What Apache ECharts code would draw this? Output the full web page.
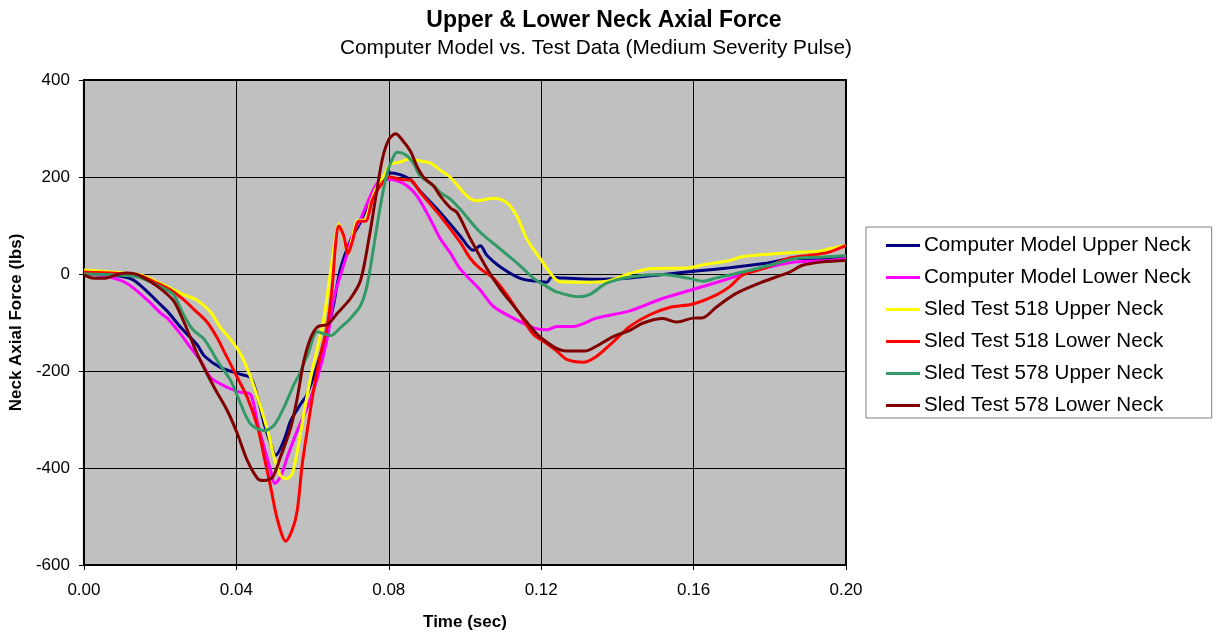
<!DOCTYPE html>
<html>
<head>
<meta charset="utf-8">
<script src="https://cdn.jsdelivr.net/npm/echarts@6/dist/echarts.min.js"></script>
<style>
html,body{margin:0;padding:0;background:#fff;}
#chart{width:1217px;height:636px;}
</style>
</head>
<body>
<div id="chart"></div>
<script>
const seriesNames = ['Computer Model Upper Neck','Computer Model Lower Neck','Sled Test 518 Upper Neck','Sled Test 518 Lower Neck','Sled Test 578 Upper Neck','Sled Test 578 Lower Neck'];
const seriesColors = ['#000080','#FF00FF','#FFFF00','#FF0000','#339966','#800000'];
const xTicks = [0, 0.04, 0.08, 0.12, 0.16, 0.20];
const yTicks = [-600, -400, -200, 0, 200, 400];

const cmUpperT = [0,0.005,0.010,0.0131,0.0175,0.0202,0.0219,0.0255,0.0297,0.0316,0.0359,0.0412,0.0438,0.0456,0.0473,0.049,0.0503,0.0525,0.0543,0.0569,0.0586,0.0613,0.0639,0.0656,0.0673,0.070,0.0726,0.0752,0.0778,0.080,0.083,0.0856,0.0883,0.0935,0.0987,0.1022,0.104,0.1058,0.1092,0.1145,0.1197,0.1215,0.1228,0.125,0.1345,0.1433,0.152,0.1607,0.1695,0.178,0.187,0.1956,0.200];
const cmUpperV = [0,-2,-5,-13,-43,-64,-77,-111,-146,-169,-193,-207,-214,-255,-309,-350,-374,-343,-302,-268,-248,-186,-118,-60,10,70,107,154,189,209,205,195,170,127,79,49,58,38,15,-9,-16,-17,-6,-8,-11,-8,-1,6,13,21,32,32,33];

const cmLowerT = [0,0.005,0.0079,0.0105,0.0132,0.0175,0.0202,0.0219,0.0255,0.028,0.0307,0.0333,0.0377,0.0412,0.0438,0.0456,0.0473,0.049,0.0501,0.0516,0.0534,0.056,0.0586,0.0613,0.0639,0.0656,0.0687,0.0708,0.0726,0.0752,0.0774,0.0801,0.0822,0.0848,0.0874,0.0909,0.0935,0.0962,0.0987,0.104,0.1075,0.1127,0.118,0.1215,0.1241,0.1284,0.1345,0.1433,0.152,0.1607,0.1695,0.178,0.187,0.1956,0.200];
const cmLowerV = [0,-3,-9,-16,-30,-60,-81,-91,-125,-152,-180,-214,-234,-244,-249,-309,-357,-405,-432,-418,-377,-323,-275,-214,-132,-50,32,86,113,161,191,195,192,182,161,113,73,43,11,-33,-67,-91,-111,-115,-108,-108,-91,-76,-50,-30,-9,11,25,28,32];

const st518UpperT = [0,0.0088,0.0149,0.021,0.0263,0.0297,0.0332,0.0359,0.0385,0.0412,0.0438,0.0464,0.0482,0.0499,0.0516,0.0532,0.0547,0.056,0.0577,0.0595,0.0613,0.063,0.0647,0.066,0.0669,0.0682,0.0693,0.0704,0.0717,0.0739,0.0752,0.077,0.0787,0.0804,0.0831,0.0852,0.0883,0.0909,0.0935,0.0962,0.1005,0.1031,0.1075,0.111,0.1136,0.1162,0.1197,0.1232,0.125,0.131,0.1372,0.1433,0.1485,0.1589,0.1625,0.1695,0.1729,0.1852,0.193,0.1956,0.200];
const st518UpperV = [8,3,-2,-23,-43,-54,-78,-111,-135,-166,-214,-275,-323,-377,-416,-422,-411,-365,-289,-214,-152,-91,4,73,103,73,42,73,109,113,147,182,202,226,231,237,233,229,214,199,161,151,156,147,120,73,32,-6,-16,-17,-15,1,11,13,19,28,36,44,47,52,59];

const st518LowerT = [0,0.0088,0.0149,0.0184,0.0228,0.0263,0.029,0.0324,0.035,0.0368,0.0403,0.0429,0.0456,0.0473,0.049,0.0508,0.053,0.0547,0.056,0.0573,0.0586,0.0604,0.0621,0.0639,0.0652,0.066,0.0669,0.0682,0.0693,0.0704,0.0722,0.0739,0.0757,0.0778,0.0801,0.0831,0.0857,0.0883,0.0935,0.0987,0.1014,0.104,0.1075,0.111,0.1145,0.118,0.1206,0.1241,0.1267,0.131,0.1345,0.1389,0.1433,0.1485,0.1537,0.1598,0.166,0.1695,0.1729,0.1782,0.1852,0.1921,0.1956,0.200];
const st518LowerV = [4,1,-4,-16,-33,-54,-74,-100,-132,-160,-214,-255,-316,-377,-439,-507,-551,-527,-487,-392,-323,-234,-166,-105,-24,58,99,78,42,66,109,109,153,182,200,195,194,168,120,66,32,11,-9,-43,-84,-125,-139,-159,-176,-182,-170,-140,-108,-84,-69,-62,-43,-26,-2,11,33,40,45,59];

const st578UpperT = [0,0.0088,0.014,0.0175,0.021,0.0236,0.0259,0.0285,0.0316,0.0351,0.0386,0.0412,0.0438,0.0473,0.0499,0.0525,0.0551,0.0564,0.0588,0.0613,0.0647,0.0674,0.070,0.0726,0.0743,0.0761,0.0778,0.0796,0.0813,0.0822,0.0844,0.0865,0.0883,0.0918,0.0935,0.0962,0.0987,0.104,0.1092,0.1145,0.118,0.1215,0.1241,0.1297,0.1328,0.1372,0.1433,0.152,0.1589,0.1625,0.166,0.1729,0.1799,0.1869,0.1939,0.200];
const st578UpperV = [0,-2,-6,-16,-30,-43,-80,-114,-135,-180,-221,-269,-310,-323,-312,-275,-228,-209,-165,-119,-127,-110,-91,-65,-24,58,140,209,243,251,246,228,202,182,168,154,134,86,52,17,-9,-26,-37,-47,-42,-19,-6,-1,-9,-15,-8,4,18,32,35,38];

const st578LowerT = [0,0.0027,0.0053,0.0088,0.0114,0.014,0.0175,0.021,0.0236,0.0263,0.028,0.0298,0.0342,0.0377,0.0403,0.0429,0.0456,0.0473,0.0495,0.0516,0.0543,0.056,0.0577,0.0595,0.0613,0.0639,0.0665,0.070,0.0726,0.0748,0.0765,0.0783,0.080,0.0818,0.0835,0.0857,0.0874,0.0892,0.0918,0.0935,0.0962,0.0979,0.1014,0.1058,0.1092,0.1127,0.1162,0.1197,0.1258,0.1315,0.1345,0.1389,0.1433,0.1468,0.152,0.1555,0.1598,0.1625,0.166,0.1712,0.1782,0.1852,0.1886,0.1939,0.200];
const st578LowerV = [-2,-9,-9,-1,2,-1,-16,-36,-56,-100,-132,-166,-234,-283,-330,-385,-422,-426,-419,-377,-316,-255,-180,-132,-109,-104,-81,-50,-13,73,154,236,277,289,277,253,222,199,181,161,136,127,73,11,-30,-65,-99,-130,-158,-159,-149,-129,-116,-101,-92,-99,-91,-90,-68,-40,-16,4,18,25,28];

const seriesT = [cmUpperT, cmLowerT, st518UpperT, st518LowerT, st578UpperT, st578LowerT];
const seriesV = [cmUpperV, cmLowerV, st518UpperV, st518LowerV, st578UpperV, st578LowerV];

const FONT = 'Liberation Sans, Arial, sans-serif';
const chart = echarts.init(document.getElementById('chart'), null, {renderer: 'canvas'});

const series = seriesNames.map((name, i) => ({
  name: name,
  type: 'line',
  data: seriesT[i].map((t, j) => [t, seriesV[i][j]]),
  showSymbol: false,
  symbol: 'none',
  smooth: 0.3,
  lineStyle: {color: seriesColors[i], width: 3},
  itemStyle: {color: seriesColors[i]},
  animation: false,
  z: 2 + i
}));

chart.setOption({
  animation: false,
  backgroundColor: '#ffffff',
  graphic: [
    {type: 'text', x: 604, y: 9, style: {text: 'Upper & Lower Neck Axial Force', font: 'bold 23px ' + FONT, fill: '#000', align: 'center', verticalAlign: 'top'}},
    {type: 'text', x: 596, y: 38, style: {text: 'Computer Model vs. Test Data (Medium Severity Pulse)', font: '20.8px ' + FONT, fill: '#000', align: 'center', verticalAlign: 'top'}}
  ],
  grid: {
    left: 83, top: 80, right: 371, bottom: 69,
    show: true, backgroundColor: '#C0C0C0', borderColor: '#000', borderWidth: 2,
    containLabel: false
  },
  legend: {
    orient: 'vertical',
    left: 866, top: 227,
    backgroundColor: '#fff',
    borderColor: '#808080', borderWidth: 1,
    padding: [8, 21, 2, 20],
    itemGap: 11,
    itemWidth: 34, itemHeight: 3,
    icon: 'rect',
    data: seriesNames,
    textStyle: {fontFamily: FONT, fontSize: 20.6, color: '#000', lineHeight: 21, padding: [0,0,0,-1]},
    selectedMode: false
  },
  xAxis: {
    type: 'value', min: 0, max: 0.2, interval: 0.04,
    name: 'Time (sec)', nameLocation: 'middle', nameGap: 49,
    nameTextStyle: {fontFamily: FONT, fontSize: 17, fontWeight: 'bold', color: '#000'},
    axisLine: {show: true, onZero: false, lineStyle: {color: '#000', width: 2}},
    axisTick: {show: true, inside: false, length: 5, lineStyle: {color: '#000', width: 1}},
    axisLabel: {fontFamily: FONT, fontSize: 17, color: '#000', margin: 17,
      formatter: v => v.toFixed(2)},
    splitLine: {show: true, lineStyle: {color: '#000', width: 1}}
  },
  yAxis: {
    type: 'value', min: -600, max: 400, interval: 200,
    name: 'Neck Axial Force (lbs)', nameLocation: 'middle', nameGap: 57,
    nameTextStyle: {fontFamily: FONT, fontSize: 17, fontWeight: 'bold', color: '#000'},
    axisLine: {show: true, onZero: false, lineStyle: {color: '#000', width: 2}},
    axisTick: {show: true, inside: false, length: 5, lineStyle: {color: '#000', width: 1}},
    axisLabel: {fontFamily: FONT, fontSize: 17, color: '#000', margin: 14},
    splitLine: {show: true, lineStyle: {color: '#000', width: 1}}
  },
  series: series
});
</script>
</body>
</html>
